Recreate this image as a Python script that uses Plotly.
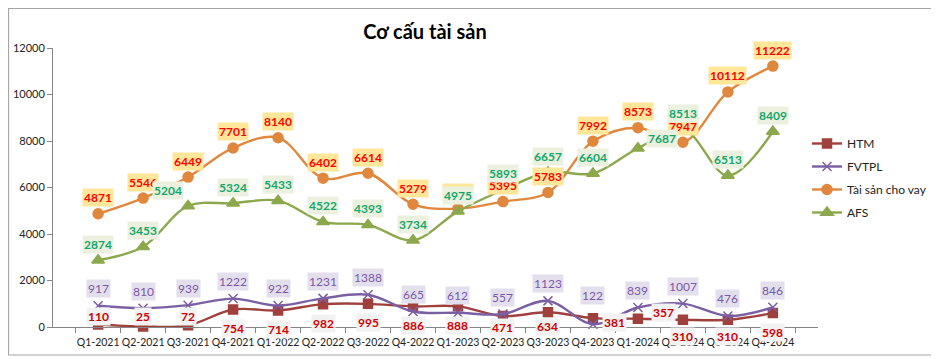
import plotly.graph_objects as go

categories = ["Q1-2021", "Q2-2021", "Q3-2021", "Q4-2021", "Q1-2022", "Q2-2022", "Q3-2022", "Q4-2022",
              "Q1-2023", "Q2-2023", "Q3-2023", "Q4-2023", "Q1-2024", "Q2-2024", "Q3-2024", "Q4-2024"]
htm = [110, 25, 72, 754, 714, 982, 995, 886, 888, 471, 634, 381, 357, 310, 310, 598]
fvtpl = [917, 810, 939, 1222, 922, 1231, 1388, 665, 612, 557, 1123, 122, 839, 1007, 476, 846]
cho_vay = [4871, 5546, 6449, 7701, 8140, 6402, 6614, 5279, 5090, 5395, 5783, 7992, 8573, 7947, 10112, 11222]
afs = [2874, 3453, 5204, 5324, 5433, 4522, 4393, 3734, 4975, 5893, 6657, 6604, 7687, 8513, 6513, 8409]
y_ticks = [0, 2000, 4000, 6000, 8000, 10000, 12000]
y_tick_labels = [str(v) for v in y_ticks]

FONT = "Lato"
W, H = 931, 351          # page body has an 8px margin
PL, PR, PT, PB = 45, 121, 40, 32
PW, PH = W - PL - PR, H - PT - PB

# label pixel offsets (styling): (dx, dy) relative to the point, dy positive = up
off_cv = [(0, 16)] * 16
off_afs = [(0, 16)] * 16
off_afs[2] = (-20, 16)
off_afs[12] = (24, 10)
off_fv = [(0, 17)] * 16
off_fv[11] = (0, 29)
off_htm = [(0, -19)] * 16
off_htm[0] = (0, 8)
off_htm[1] = (0, 10)
off_htm[2] = (0, 9)
off_htm[9] = (0, -11)
off_htm[10] = (0, -14)
off_htm[11] = (22, -4)
off_htm[12] = (26, 6)
off_htm[13] = (0, -17)
off_htm[14] = (0, -17)

series = [
    dict(name="HTM", y=htm, color="#A0403D", symbol="square", msize=9, lw=2.4),
    dict(name="FVTPL", y=fvtpl, color="#7B5FA3", symbol="x-thin", msize=9, lw=2.4),
    dict(name="Tài sản cho vay", y=cho_vay, color="#E0873E", symbol="circle", msize=10, lw=2.4),
    dict(name="AFS", y=afs, color="#8CA84C", symbol="triangle-up", msize=11, lw=2.4),
]

fig = go.Figure()
for s in series:
    fig.add_trace(go.Scatter(
        x=categories, y=s["y"], name=s["name"], mode="lines+markers",
        line=dict(color=s["color"], width=s["lw"], shape="spline", smoothing=1),
        marker=dict(symbol=s["symbol"], size=s["msize"], color=s["color"],
                    line=dict(color=s["color"], width=1.5)),
        cliponaxis=False, legendgroup=s["name"],
    ))

annotations = []
label_specs = [
    (htm, off_htm, "#D00000", "#F2F2F2", True),
    (fvtpl, off_fv, "#7A58A8", "#E4DFEC", False),
    (cho_vay, off_cv, "#FF0000", "#FFE699", True),
    (afs, off_afs, "#12A86A", "#EBF1DE", True),
]
for vals, offs, tcol, bg, bold in label_specs:
    for c, v, (dx, dy) in zip(categories, vals, offs):
        txt = f"<b>{v}</b>" if bold else f"{v}"
        annotations.append(dict(
            x=c, y=v, xref="x", yref="y", text=txt, showarrow=False,
            xshift=dx, yshift=dy, bgcolor=bg, borderpad=1,
            font=dict(family=FONT, size=12, color=tcol),
        ))

fig.update_layout(
    width=W, height=H,
    margin=dict(l=PL, r=PR, t=PT, b=PB, autoexpand=False),
    paper_bgcolor="white", plot_bgcolor="white",
    font=dict(family=FONT, size=11, color="#222222"),
    title=dict(text="<b>Cơ cấu tài sản</b>", x=417 / W, xanchor="center", y=1 - 24 / H, yanchor="middle",
               font=dict(family=FONT, size=20, color="#000000")),
    showlegend=True,
    legend=dict(x=(799 - PL) / PW, xanchor="left", y=(PT + PH - 121) / PH, yanchor="top",
                bgcolor="rgba(0,0,0,0)",
                font=dict(family=FONT, size=12, color="#222222"), traceorder="grouped",
                tracegroupgap=4),
    annotations=annotations,
    shapes=[dict(type="rect", xref="paper", yref="paper",
                 x0=(0.5 - PL) / PW, x1=(927 - PL) / PW, y0=(PT + PH - 347) / PH, y1=(PT + PH - 0.5) / PH,
                 line=dict(color="#A6A6A6", width=1.2), fillcolor="rgba(0,0,0,0)", layer="below")],
)
fig.update_xaxes(type="category", showline=True, linecolor="#868686", linewidth=1,
                 ticks="outside", tickson="boundaries", ticklen=5, tickcolor="#868686",
                 showgrid=False, tickangle=0, automargin=False, ticklabelstandoff=5,
                 tickfont=dict(family=FONT, size=10.5, color="#222222"))
fig.update_yaxes(range=[0, 12000], tickvals=y_ticks, ticktext=y_tick_labels, showline=True,
                 linecolor="#868686", linewidth=1, automargin=False,
                 ticks="outside", ticklen=5, tickcolor="#868686", showgrid=False, zeroline=False,
                 tickfont=dict(family=FONT, size=11, color="#222222"))

fig.write_html("out.html")
